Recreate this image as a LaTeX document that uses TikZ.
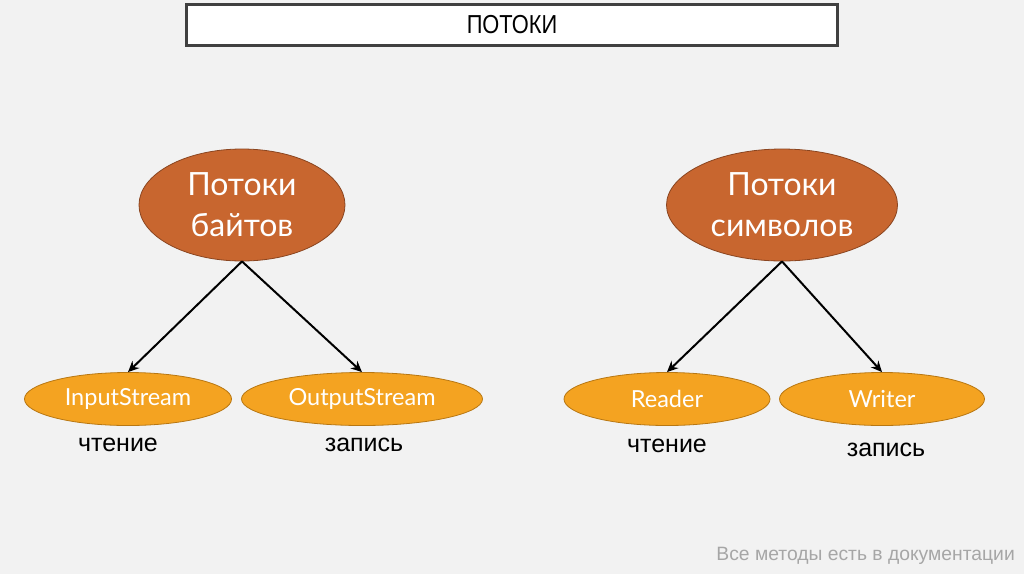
\documentclass[tikz,border=0pt]{standalone}
\usepackage{fontspec}
\setmainfont{Liberation Sans}
\newfontfamily\gillfont{Lato}
\usetikzlibrary{shapes.geometric,arrows.meta}
\definecolor{bgc}{HTML}{F2F2F2}
\definecolor{bigfill}{HTML}{C8662F}
\definecolor{bigdraw}{HTML}{8A4520}
\definecolor{smallfill}{HTML}{F4A321}
\definecolor{smalldraw}{HTML}{B87712}
\definecolor{framec}{HTML}{404040}
\definecolor{footc}{HTML}{A6A6A6}
\tikzset{
  bigell/.style={ellipse, fill=bigfill, draw=bigdraw, line width=0.8pt, inner sep=0pt,
    text=white, font=\gillfont\fontsize{32}{41}\selectfont, align=center},
  smallell/.style={ellipse, fill=smallfill, draw=smalldraw, line width=0.8pt, inner sep=0pt,
    text=white, font=\gillfont\fontsize{23.5}{27}\selectfont},
  lbl/.style={font=\fontsize{25}{29}\selectfont, text=black, inner sep=0pt},
  arr/.style={line width=2pt, -{Stealth[length=11pt,width=10pt]}},
}
\begin{document}
\begin{tikzpicture}[x=1pt,y=-1pt]
\useasboundingbox (0,0) rectangle (1024,574);
\fill[bgc] (0,0) rectangle (1024,574);
\node[draw=framec, line width=2.5pt, fill=white, minimum width=651pt, minimum height=41pt, inner sep=0pt] (title) at (512,25)
  {\fontsize{26}{30}\selectfont\scalebox{0.84}[1]{ПОТОКИ}};
\node[bigell, minimum width=206pt, minimum height=112pt] (bytes) at (242,205) {Потоки\\байтов};
\node[bigell, minimum width=231pt, minimum height=112pt] (chars) at (782,205) {Потоки\\символов};
\node[smallell, minimum width=207pt, minimum height=53pt] (in) at (128,399) {InputStream};
\node[smallell, minimum width=241pt, minimum height=53pt] (out) at (362,399) {OutputStream};
\node[smallell, minimum width=206pt, minimum height=53pt] (rd) at (667,399) {Reader};
\node[smallell, minimum width=205pt, minimum height=53pt] (wr) at (882,399) {Writer};
\draw[arr] (bytes.south) -- (in.north);
\draw[arr] (bytes.south) -- (out.north);
\draw[arr] (chars.south) -- (rd.north);
\draw[arr] (chars.south) -- (wr.north);
\node[lbl] (l1) at (118,445) {чтение};
\node[lbl] (l2) at (364,445) {запись};
\node[lbl] (l3) at (667,446) {чтение};
\node[lbl] (l4) at (886,450) {запись};
\node[anchor=east, inner sep=0pt, text=footc, font=\fontsize{19.3}{23}\selectfont] (foot) at (1015,556) {Все методы есть в документации};
\end{tikzpicture}
\end{document}
